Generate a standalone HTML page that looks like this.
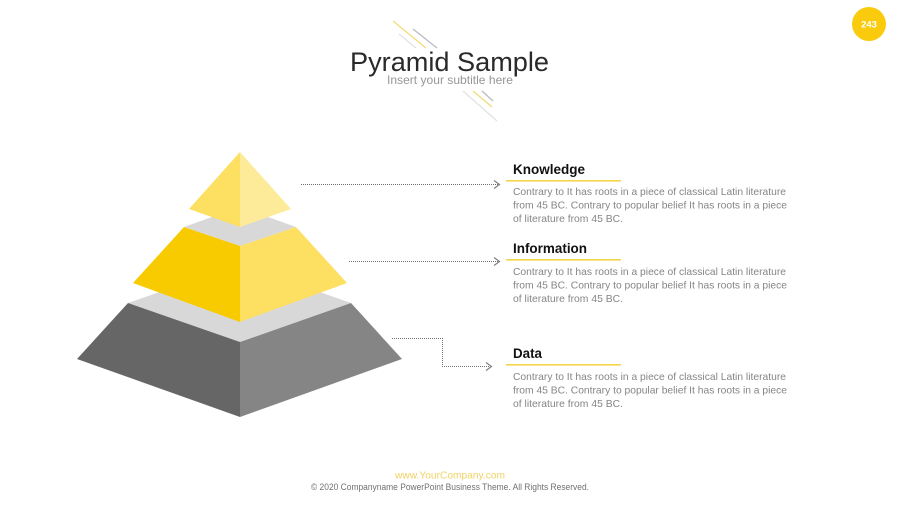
<!DOCTYPE html>
<html>
<head>
<meta charset="utf-8">
<style>
html,body{margin:0;padding:0;background:#fff;width:900px;height:506px;overflow:hidden}
svg{display:block}
text{font-family:"Liberation Sans",sans-serif}
.h{font-size:14px;font-weight:bold;fill:#111}
.b{font-size:10.5px;fill:#858585}
</style>
</head>
<body>
<svg width="900" height="506" viewBox="0 0 900 506" xmlns="http://www.w3.org/2000/svg">
<rect width="900" height="506" fill="#fff"/>

<!-- decorative lines -->
<g fill="none" stroke-width="1.4">
<line x1="393" y1="21" x2="426" y2="48" stroke="#f2dc7c"/>
<line x1="413" y1="29" x2="437" y2="48" stroke="#bdbdc2"/>
<line x1="399" y1="34" x2="416" y2="48" stroke="#e4e4e6"/>
<line x1="463" y1="91" x2="497" y2="121" stroke="#e4e4e6"/>
<line x1="473" y1="91" x2="492" y2="107" stroke="#f2dc7c"/>
<line x1="482" y1="91" x2="493" y2="101" stroke="#bdbdc2"/>
</g>

<!-- title -->
<text x="350" y="71" font-size="27" fill="#2a2a2a" textLength="199" lengthAdjust="spacingAndGlyphs">Pyramid Sample</text>
<text x="387" y="84" font-size="12" fill="#979797" textLength="126" lengthAdjust="spacingAndGlyphs">Insert your subtitle here</text>

<!-- page badge -->
<circle cx="869" cy="24" r="17" fill="#f9cb0c"/>
<text x="869" y="27.500" font-size="9.500" font-weight="bold" fill="#fff" text-anchor="middle">243</text>

<!-- pyramid -->
<polygon points="128,303 240,264 351,303 240,342" fill="#d8d8d8"/>
<polygon points="184,227 240,207 296,227 240,246" fill="#d8d8d8"/>
<polygon points="128,303 240,342 240,417 77,359" fill="#666666"/>
<polygon points="351,303 240,342 240,417 402,359" fill="#858585"/>
<polygon points="184,227 240,246 240,322 133,283" fill="#f8cb00"/>
<polygon points="296,227 240,246 240,322 347,283" fill="#fddf62"/>
<polygon points="240,152 240,227 189,209" fill="#fddf62"/>
<polygon points="240,152 240,227 291,209" fill="#fdeb99"/>

<!-- connectors -->
<g fill="none" stroke="#6f6f6f" stroke-width="1">
<path d="M301 184.500H498" stroke-dasharray="1 1"/>
<path d="M349 261.500H498" stroke-dasharray="1 1"/>
<path d="M392 338.500H442.500V366.500H490" stroke-dasharray="1 1"/>
</g>
<g fill="none" stroke="#808080" stroke-width="1.200">
<path d="M494 180.500L499.500 184.500L494 188.500"/>
<path d="M494 257.500L499.500 261.500L494 265.500"/>
<path d="M486 362.500L491.500 366.500L486 370.500"/>
</g>

<!-- Knowledge -->
<text class="h" x="513" y="174" textLength="72" lengthAdjust="spacingAndGlyphs">Knowledge</text>
<rect x="506" y="180" width="115" height="1.600" fill="#f5d34a"/>
<text class="b" x="513" y="195" textLength="273" lengthAdjust="spacingAndGlyphs">Contrary to It has roots in a piece of classical Latin literature</text>
<text class="b" x="513" y="208.500" textLength="274" lengthAdjust="spacingAndGlyphs">from 45 BC. Contrary to popular belief It has roots in a piece</text>
<text class="b" x="513" y="222" textLength="110" lengthAdjust="spacingAndGlyphs">of literature from 45 BC.</text>

<!-- Information -->
<text class="h" x="513" y="253" textLength="74" lengthAdjust="spacingAndGlyphs">Information</text>
<rect x="506" y="259" width="115" height="1.600" fill="#f5d34a"/>
<text class="b" x="513" y="275" textLength="273" lengthAdjust="spacingAndGlyphs">Contrary to It has roots in a piece of classical Latin literature</text>
<text class="b" x="513" y="288.500" textLength="274" lengthAdjust="spacingAndGlyphs">from 45 BC. Contrary to popular belief It has roots in a piece</text>
<text class="b" x="513" y="302" textLength="110" lengthAdjust="spacingAndGlyphs">of literature from 45 BC.</text>

<!-- Data -->
<text class="h" x="513" y="358" textLength="29" lengthAdjust="spacingAndGlyphs">Data</text>
<rect x="506" y="364" width="115" height="1.600" fill="#f5d34a"/>
<text class="b" x="513" y="380" textLength="273" lengthAdjust="spacingAndGlyphs">Contrary to It has roots in a piece of classical Latin literature</text>
<text class="b" x="513" y="393.500" textLength="274" lengthAdjust="spacingAndGlyphs">from 45 BC. Contrary to popular belief It has roots in a piece</text>
<text class="b" x="513" y="407" textLength="110" lengthAdjust="spacingAndGlyphs">of literature from 45 BC.</text>

<!-- footer -->
<text x="395" y="478.500" font-size="10.500" fill="#f0d364" textLength="110" lengthAdjust="spacingAndGlyphs">www.YourCompany.com</text>
<text x="311" y="490" font-size="9" fill="#707070" textLength="278" lengthAdjust="spacingAndGlyphs">© 2020 Companyname PowerPoint Business Theme. All Rights Reserved.</text>
</svg>
</body>
</html>
